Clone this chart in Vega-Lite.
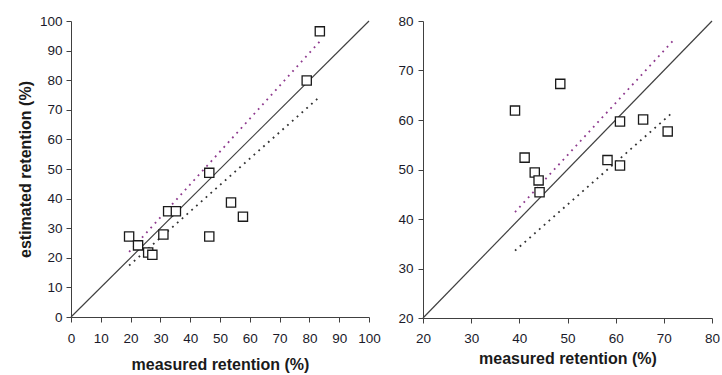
{
  "$schema": "https://vega.github.io/schema/vega-lite/v6.json",
  "background": "white",
  "padding": {"left": 17, "top": 14, "right": 5, "bottom": 5},
  "spacing": 16,
  "config": {
    "view": {"stroke": null},
    "font": "Liberation Sans",
    "axis": {
      "grid": false,
      "domainColor": "#404040",
      "tickColor": "#404040",
      "tickSize": 5,
      "labelOverlap": false,
      "labelFlush": false,
      "labelFont": "Liberation Sans",
      "labelFontSize": 13.5,
      "labelColor": "#1a1a2a",
      "titleFont": "Liberation Sans",
      "titleFontSize": 16,
      "titleFontWeight": "bold",
      "titleColor": "#1a1a1a"
    }
  },
  "datasets": {
    "pts": [
      {"panel": "A", "x": 19.5, "y": 27.2},
      {"panel": "A", "x": 22.5, "y": 24.2},
      {"panel": "A", "x": 25.9, "y": 21.8},
      {"panel": "A", "x": 27.3, "y": 21.0},
      {"panel": "A", "x": 31.0, "y": 27.9},
      {"panel": "A", "x": 32.6, "y": 35.7},
      {"panel": "A", "x": 35.2, "y": 35.7},
      {"panel": "A", "x": 46.4, "y": 48.7},
      {"panel": "A", "x": 46.4, "y": 27.2},
      {"panel": "A", "x": 53.7, "y": 38.7},
      {"panel": "A", "x": 57.7, "y": 33.9},
      {"panel": "A", "x": 79.1, "y": 79.9},
      {"panel": "A", "x": 83.5, "y": 96.5},
      {"panel": "B", "x": 39.1, "y": 61.9},
      {"panel": "B", "x": 48.5, "y": 67.3},
      {"panel": "B", "x": 41.1, "y": 52.4},
      {"panel": "B", "x": 43.2, "y": 49.4},
      {"panel": "B", "x": 44.0, "y": 47.8},
      {"panel": "B", "x": 44.2, "y": 45.4},
      {"panel": "B", "x": 58.3, "y": 51.9},
      {"panel": "B", "x": 60.9, "y": 50.8},
      {"panel": "B", "x": 60.9, "y": 59.7},
      {"panel": "B", "x": 65.7, "y": 60.1},
      {"panel": "B", "x": 70.8, "y": 57.7}
    ],
    "lines": [
      {"panel": "A", "series": "identity", "x": 0, "y": 0},
      {"panel": "A", "series": "identity", "x": 100, "y": 100},
      {"panel": "A", "series": "upper", "x": 19.5, "y": 22.0},
      {"panel": "A", "series": "upper", "x": 83.5, "y": 93.1},
      {"panel": "A", "series": "lower", "x": 19.5, "y": 17.4},
      {"panel": "A", "series": "lower", "x": 83.0, "y": 74.0},
      {"panel": "B", "series": "identity", "x": 20, "y": 20},
      {"panel": "B", "series": "identity", "x": 80, "y": 80},
      {"panel": "B", "series": "upper", "x": 39.1, "y": 41.4},
      {"panel": "B", "series": "upper", "x": 71.9, "y": 76.0},
      {"panel": "B", "series": "lower", "x": 39.1, "y": 33.6},
      {"panel": "B", "series": "lower", "x": 71.9, "y": 61.6}
    ]
  },
  "hconcat": [
    {
      "width": 298,
      "height": 296,
      "encoding": {
        "x": {"field": "x", "type": "quantitative", "scale": {"domain": [0, 100], "nice": false},
              "axis": {"values": [0,10,20,30,40,50,60,70,80,90,100], "title": "measured retention (%)", "labelPadding": 9, "titlePadding": 12}},
        "y": {"field": "y", "type": "quantitative", "scale": {"domain": [0, 100], "nice": false},
              "axis": {"values": [0,10,20,30,40,50,60,70,80,90,100], "title": "estimated retention (%)", "labelPadding": 4, "titlePadding": 6}}
      },
      "layer": [
        {
          "data": {"name": "lines"},
          "transform": [{"filter": "datum.panel === 'A' && datum.series === 'identity'"}],
          "mark": {"type": "line", "color": "#404040", "strokeWidth": 1.2}
        },
        {
          "data": {"name": "lines"},
          "transform": [{"filter": "datum.panel === 'A' && datum.series === 'upper'"}],
          "mark": {"type": "line", "color": "#8e3a8e", "strokeWidth": 1.8, "strokeDash": [1.8, 4.6]}
        },
        {
          "data": {"name": "lines"},
          "transform": [{"filter": "datum.panel === 'A' && datum.series === 'lower'"}],
          "mark": {"type": "line", "color": "#333333", "strokeWidth": 1.8, "strokeDash": [1.8, 4.6]}
        },
        {
          "data": {"name": "pts"},
          "transform": [{"filter": "datum.panel === 'A'"}],
          "mark": {"type": "point", "shape": "square", "size": 85, "filled": true, "fill": "white", "stroke": "#1a1a1a", "strokeWidth": 1.3, "opacity": 1}
        }
      ]
    },
    {
      "width": 289,
      "height": 297,
      "encoding": {
        "x": {"field": "x", "type": "quantitative", "scale": {"domain": [20, 80], "nice": false},
              "axis": {"values": [20,30,40,50,60,70,80], "title": "measured retention (%)", "labelPadding": 8, "titlePadding": 6}},
        "y": {"field": "y", "type": "quantitative", "scale": {"domain": [20, 80], "nice": false},
              "axis": {"values": [20,30,40,50,60,70,80], "title": null, "labelPadding": 5}}
      },
      "layer": [
        {
          "data": {"name": "lines"},
          "transform": [{"filter": "datum.panel === 'B' && datum.series === 'identity'"}],
          "mark": {"type": "line", "color": "#404040", "strokeWidth": 1.2}
        },
        {
          "data": {"name": "lines"},
          "transform": [{"filter": "datum.panel === 'B' && datum.series === 'upper'"}],
          "mark": {"type": "line", "color": "#8e3a8e", "strokeWidth": 1.8, "strokeDash": [1.8, 4.6]}
        },
        {
          "data": {"name": "lines"},
          "transform": [{"filter": "datum.panel === 'B' && datum.series === 'lower'"}],
          "mark": {"type": "line", "color": "#333333", "strokeWidth": 1.8, "strokeDash": [1.8, 4.6]}
        },
        {
          "data": {"name": "pts"},
          "transform": [{"filter": "datum.panel === 'B'"}],
          "mark": {"type": "point", "shape": "square", "size": 85, "filled": true, "fill": "white", "stroke": "#1a1a1a", "strokeWidth": 1.3, "opacity": 1}
        }
      ]
    }
  ]
}
